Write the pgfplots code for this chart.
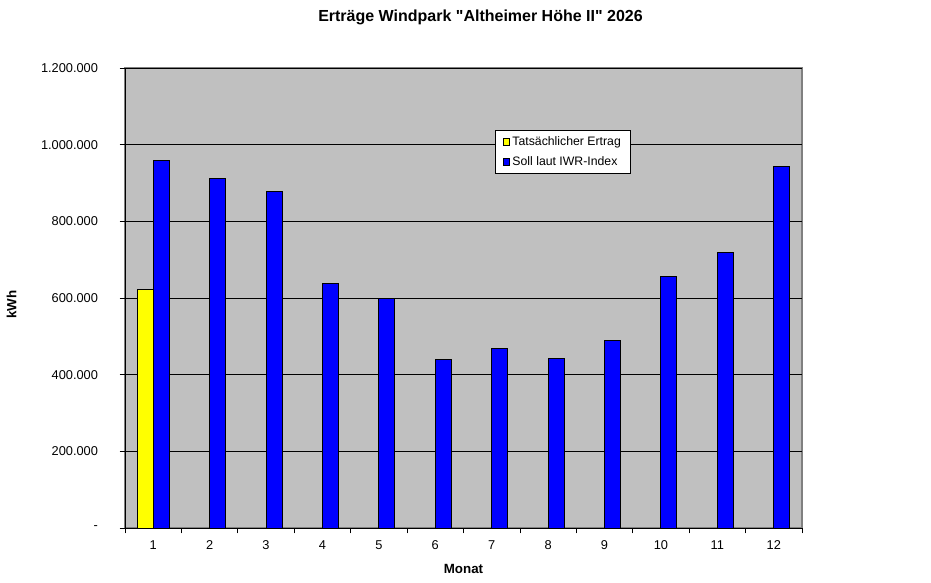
\documentclass[border=0pt]{standalone}
\usepackage{pgfplots}
\pgfplotsset{compat=1.18}
\usepackage{fontspec}
\setmainfont{Liberation Sans}[Ligatures=TeXOff]
\definecolor{plotgray}{HTML}{C0C0C0}
\definecolor{bordergray}{HTML}{808080}
\definecolor{barblue}{HTML}{0000FF}
\definecolor{baryellow}{HTML}{FFFF00}
\begin{document}
\begin{tikzpicture}
\useasboundingbox (-93.75pt,-40.5pt) rectangle (604.5pt,396pt);
\begin{axis}[
  at={(0pt,0pt)}, anchor=south west,
  scale only axis,
  width=507.75pt, height=345pt,
  ybar=0pt, bar width=12pt,
  xmin=0.5, xmax=12.5,
  ymin=0, ymax=1200000,
  axis background/.style={fill=plotgray, draw=bordergray, line width=0.9pt},
  axis x line*=bottom, axis y line*=left,
  axis line style={black, line width=0.7pt, -},
  xtick={1,...,12},
  major x tick style={draw=none},
  minor xtick={0.5,1.5,...,12.5},
  minor x tick style={black, line width=0.6pt},
  minor tick length=4pt,
  tick align=outside,
  ytick={0,200000,400000,600000,800000,1000000,1200000},
  yticklabels={-\hspace{4.5pt},200.000,400.000,600.000,800.000,1.000.000,1.200.000},
  scaled y ticks=false,
  major y tick style={black, line width=0.6pt},
  major tick length=4pt,
  ymajorgrids, grid style={black, line width=0.7pt},
  tick label style={font=\fontsize{9.6pt}{11pt}\selectfont},
  /pgf/number format/assume math mode=true,
  xticklabel style={yshift=-2pt},
  yticklabel style={xshift=-12.75pt},
  legend style={at={(0.5465,0.865)}, anchor=north west, draw=black, line width=0.6pt,
    fill=white, font=\fontsize{9.2pt}{11pt}\selectfont, inner xsep=5.5pt, inner ysep=2.5pt,
    row sep=3pt, cells={anchor=west}},
  legend image code/.code={\draw[#1, draw=black, line width=0.5pt] (0pt,-2.2pt) rectangle (4.8pt,2.6pt);},
  clip=false,
]
\addplot[fill=baryellow, draw=black, line width=0.7pt] coordinates {(1,621000)};
\addplot[fill=barblue, draw=black, line width=0.7pt] coordinates {
  (1,958000) (2,912000) (3,878000) (4,637000) (5,599000) (6,440000)
  (7,468000) (8,441000) (9,490000) (10,657000) (11,719000) (12,944000)};
\legend{Tatsächlicher Ertrag, Soll laut IWR-Index}
\node[font=\fontsize{12pt}{14pt}\selectfont\bfseries, anchor=center, xshift=12.75pt, yshift=38pt] at (rel axis cs:0.5,1) {Erträge Windpark "Altheimer Höhe II" 2026};
\node[font=\fontsize{10pt}{12pt}\selectfont\bfseries, anchor=center, xshift=-85pt, yshift=-5pt, rotate=90] at (rel axis cs:0,0.5) {kWh};
\node[font=\fontsize{10pt}{12pt}\selectfont\bfseries, anchor=center] at (rel axis cs:0.5,0) [yshift=-30.5pt] {Monat};
\end{axis}
\end{tikzpicture}
\end{document}
